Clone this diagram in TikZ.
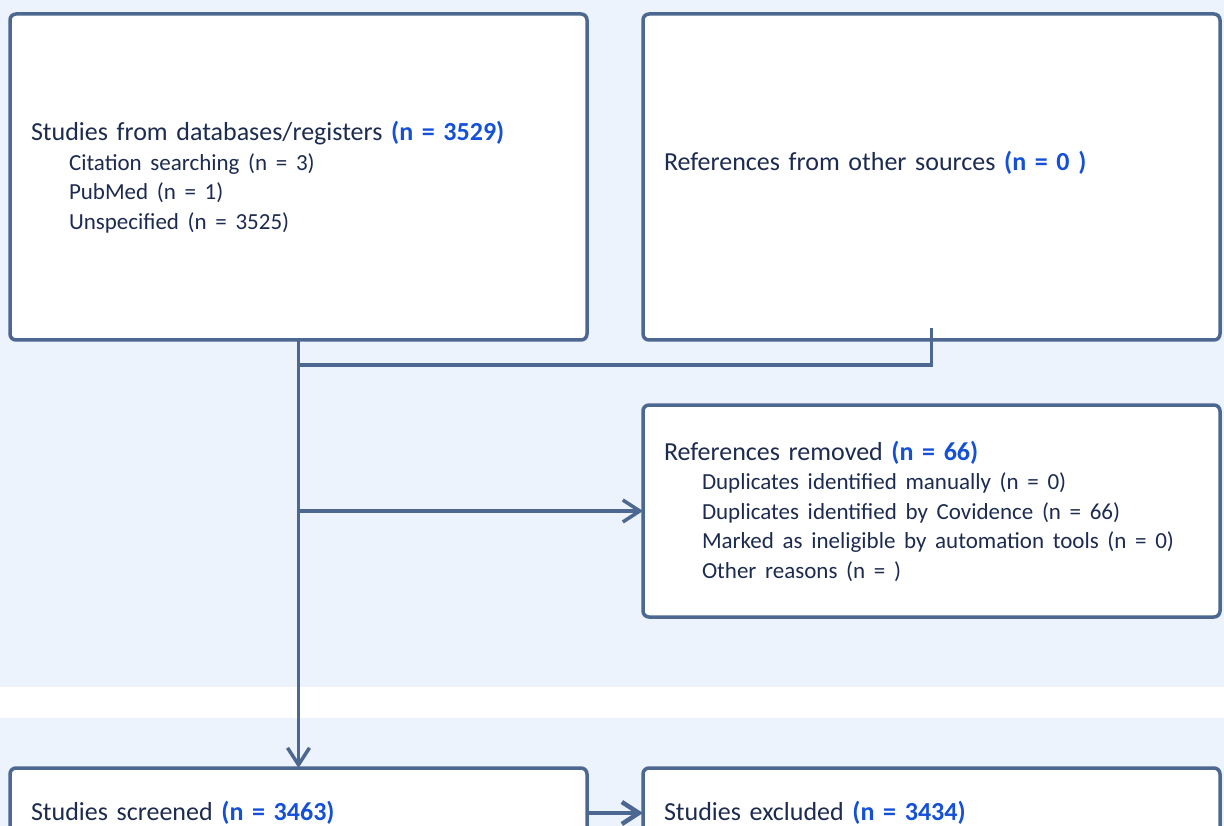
\documentclass[tikz,border=0pt]{standalone}
\usepackage{fontspec}
\setmainfont{Carlito}
\usepackage{xcolor}
\usetikzlibrary{positioning, arrows.meta}

\definecolor{linecol}{HTML}{4D6890}
\definecolor{textcol}{HTML}{1C2B4F}
\definecolor{numblue}{HTML}{1550D8}
\definecolor{bandcol}{HTML}{EDF3FD}

\newcommand{\ncount}[1]{\textbf{\color{numblue}#1}}
\newcommand{\headsize}{\fontsize{26}{29.5}\selectfont}
\newcommand{\subsize}{\fontsize{23}{29.5}\selectfont}
\newcommand{\indline}{\\\subsize\hspace*{38pt}}

\begin{document}
\begin{tikzpicture}[x=1pt, y=-1pt,
    box/.style={draw=linecol, line width=3.5pt, rounded corners=6pt, fill=white,
        text=textcol, align=left, outer sep=0pt, inner xsep=21pt,
        minimum width=577pt, text width=535pt, font=\headsize},
    flow/.style={draw=linecol, line width=3.5pt},
    tip/.style={-{Straight Barb[length=17pt, width=22pt]}}]
    \useasboundingbox (0,0) rectangle (1224,826);
    \clip (0,0) rectangle (1224,826);

    % bands
    \fill[bandcol] (0,0) rectangle (1224,687);
    \fill[bandcol] (0,718) rectangle (1224,826);

    \node[box, minimum height=326pt, anchor=north west] (sources) at (10,14)
        {Studies from databases/registers \ncount{(n = 3529)}
        \indline Citation searching (n = 3)
        \indline PubMed (n = 1)
        \indline Unspecified (n = 3525)};
    \node[box, minimum height=326pt, right=56pt of sources] (other)
        {\raisebox{14pt}[\height][\depth]{References from other sources \ncount{(n = 0 )}}};
    \node[box, minimum height=212pt, below=65pt of other] (removed)
        {References removed \ncount{(n = 66)}
        \indline Duplicates identified manually (n = 0)
        \indline Duplicates identified by Covidence (n = 66)
        \indline Marked as ineligible by automation tools (n = 0)
        \indline Other reasons (n = )};
    \node[box, minimum height=90pt, below=428pt of sources] (screened)
        {Studies screened \ncount{(n = 3463)}};
    \node[box, minimum height=90pt, right=56pt of screened] (excluded)
        {Studies excluded \ncount{(n = 3434)}};

    \coordinate (merge) at (sources.south |- 0,365);

    \draw[flow] ([yshift=12pt]other.south) |- (merge);
    \draw[flow, tip] (sources.south) -- (screened.north);
    \draw[flow, tip] (removed.west -| sources.south) -- (removed.west);
    \draw[flow, line width=4.5pt, tip] (screened) -- (excluded);
\end{tikzpicture}
\end{document}
